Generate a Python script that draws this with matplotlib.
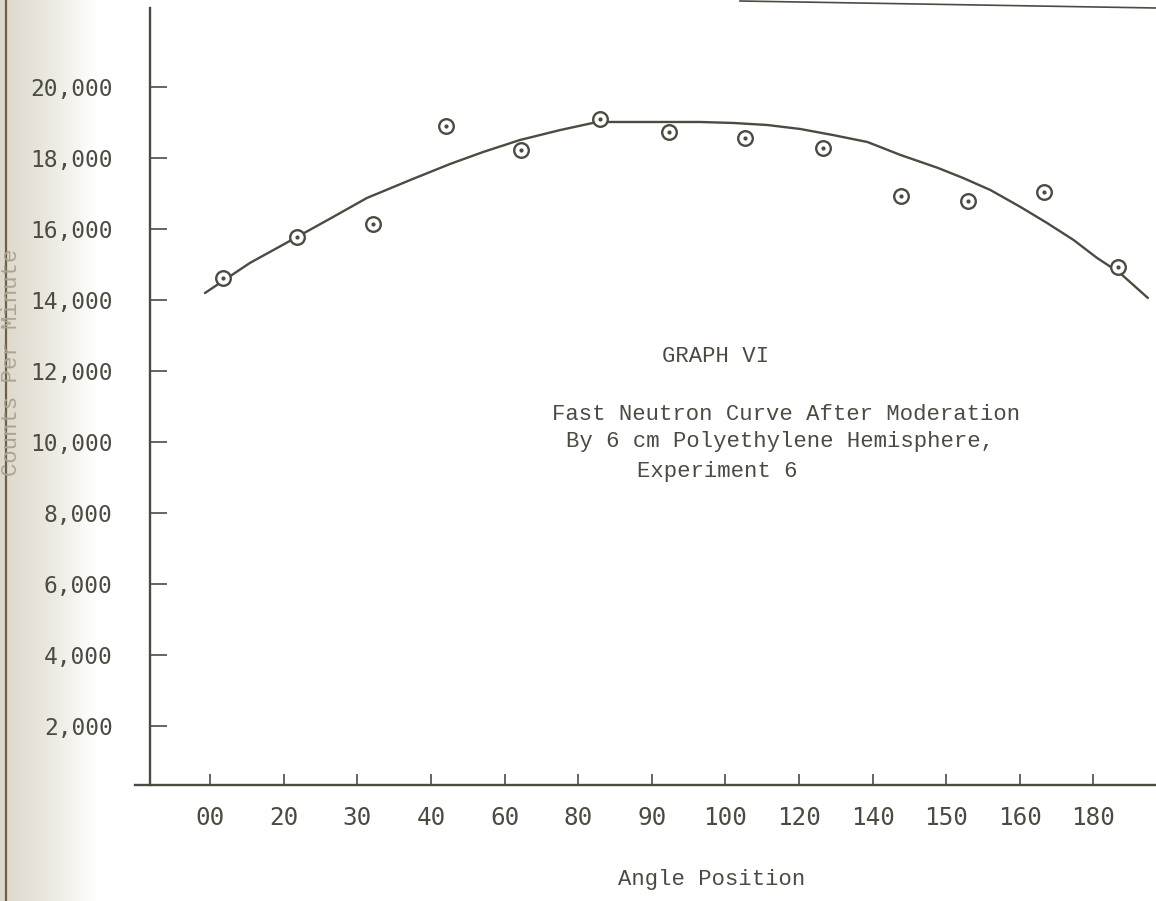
import numpy as np
import matplotlib.pyplot as plt
from matplotlib.lines import Line2D

# Angle positions printed along the bottom axis (evenly spaced slots)
angle_labels = ["00", "20", "30", "40", "60", "80", "90", "100",
                "120", "140", "150", "160", "180"]

# Measured counts, x given in slot units of the angle axis
point_pos = [0.18, 1.18, 2.21, 3.21, 4.23, 5.30, 6.24, 7.27, 8.32, 9.39, 10.30, 11.33, 12.34]
point_counts = [14620, 15775, 16140, 18900, 18230, 19100, 18730, 18560,
                18280, 16930, 16790, 17040, 14930]

# Hand-drawn fitted curve, traced as a list of points
curve_pos = [-0.07, 0.54, 0.91, 1.18, 1.67, 2.13, 2.72, 3.26, 3.71, 4.21,
             4.76, 5.26, 5.98, 6.66, 7.11, 7.57, 8.02, 8.46, 8.93, 9.38,
             9.89, 10.23, 10.60, 11.01, 11.37, 11.73, 12.05, 12.36, 12.74]
curve_counts = [14197, 15043, 15465, 15775, 16338, 16874, 17381, 17832, 18170, 18508,
                18790, 19015, 19015, 19015, 18987, 18930, 18817, 18648, 18451, 18085,
                17719, 17437, 17099, 16620, 16170, 15691, 15184, 14761, 14057]

count_ticks = [2000, 4000, 6000, 8000, 10000, 12000, 14000, 16000, 18000, 20000]
count_labels = ["2,000", "4,000", "6,000", "8,000", "10,000", "12,000",
                "14,000", "16,000", "18,000", "20,000"]

ink = "#4b4b42"
mono = ["Liberation Mono", "DejaVu Sans Mono"]
sans_mono = ["DejaVu Sans Mono"]

W, H = 1156, 901
fig = plt.figure(figsize=(W / 100, H / 100), dpi=100)
fig.patch.set_facecolor("white")

# faded strip along the bound edge of the page
strip = fig.add_axes([0, 0, 120 / W, 1])
grad = np.linspace(0, 1, 200)
shade = np.ones((1, 200, 3))
base = np.array([0.87, 0.85, 0.80])
for c in range(3):
    shade[0, :, c] = base[c] + (1 - base[c]) * np.clip(grad * 1.25, 0, 1) ** 1.3
strip.imshow(shade, aspect="auto", extent=[0, 1, 0, 1])
strip.axis("off")
fig.add_artist(Line2D([5.5 / W, 5.5 / W], [0, 1], color="#6e5f48", lw=1.6))

ax = fig.add_axes([135 / W, 1 - 785 / H, 1 - 135 / W, (785 - 8) / H])
ax.set_facecolor("none")

ax.plot(curve_pos, curve_counts, color=ink, lw=1.7, solid_joinstyle="round",
        solid_capstyle="round", zorder=3)
ax.plot(point_pos, point_counts, linestyle="none", marker="o", markersize=10.5,
        markerfacecolor="white", markeredgecolor=ink, markeredgewidth=1.7, zorder=4)
ax.plot(point_pos, point_counts, linestyle="none", marker="o", markersize=2.0,
        color=ink, zorder=5)

ax.set_xlim(-1.02, 12.85)
ax.set_ylim(338, 22226)

for side in ["top", "right"]:
    ax.spines[side].set_visible(False)
ax.spines["left"].set_position(("data", -0.815))
for side in ["left", "bottom"]:
    ax.spines[side].set_color(ink)
    ax.spines[side].set_linewidth(1.7)

ax.set_xticks(range(len(angle_labels)))
ax.set_xticklabels(angle_labels, family=sans_mono, fontsize=17.5, color=ink)
ax.set_yticks(count_ticks)
ax.set_yticklabels(count_labels, family=sans_mono, fontsize=16.5, color=ink)
ax.tick_params(axis="x", direction="in", length=8, width=1.2, color=ink, pad=15)
ax.tick_params(axis="y", direction="in", length=12, width=1.2, color=ink, pad=27)

# annotation block in the middle of the plot
ax.text(715 / W, 1 - 356 / H, "GRAPH VI", transform=fig.transFigure,
        ha="center", va="center", family=mono, fontsize=16, color=ink)
ax.text(552 / W, 1 - 414 / H, "Fast Neutron Curve After Moderation",
        transform=fig.transFigure, ha="left", va="center", family=mono,
        fontsize=16, color=ink)
ax.text(566 / W, 1 - 442 / H, "By 6 cm Polyethylene Hemisphere,",
        transform=fig.transFigure, ha="left", va="center", family=mono,
        fontsize=16, color=ink)
ax.text(717 / W, 1 - 471 / H, "Experiment 6", transform=fig.transFigure,
        ha="center", va="center", family=mono, fontsize=16, color=ink)

fig.text(712 / W, 1 - 880 / H, "Angle Position", ha="center", va="center",
         family=mono, fontsize=16, color=ink)
fig.text(12 / W, 1 - 362 / H, "Counts Per Minute", rotation=90, ha="center",
         va="center", family=mono, fontsize=16, color="#aaa493")

# stray rule at the top edge of the sheet
fig.add_artist(Line2D([740 / W, 1.0], [1 - 1 / H, 1 - 8 / H], color=ink, lw=1.2))

fig.savefig("out.png", dpi=100)
